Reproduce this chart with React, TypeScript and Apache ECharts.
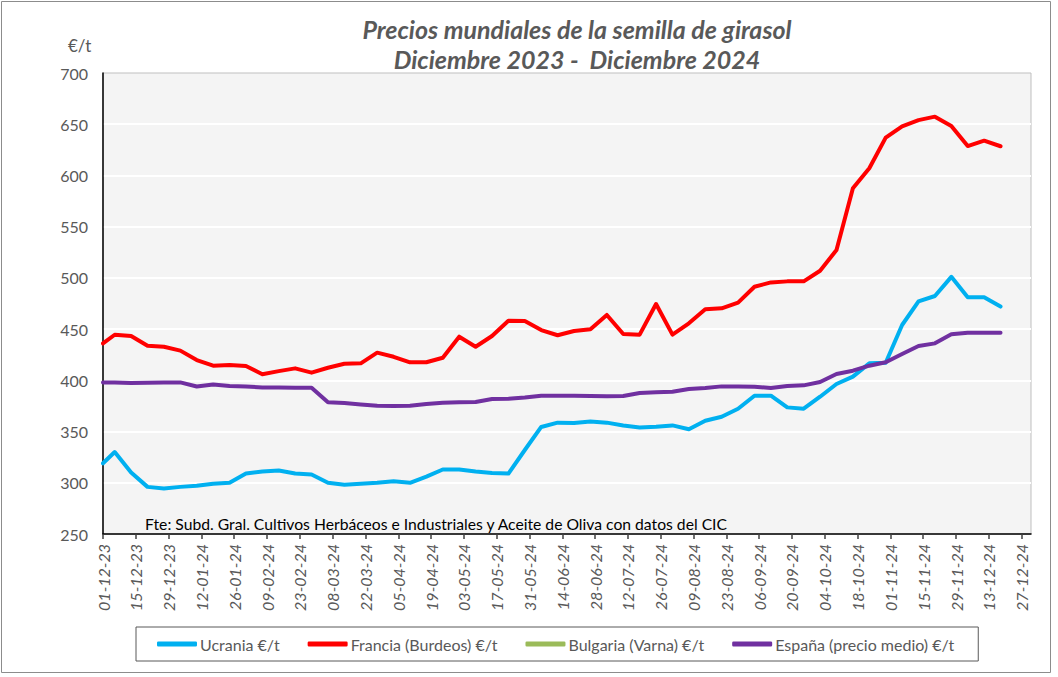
import React, { useEffect, useRef } from "react";
import * as echarts from "echarts";

// ---- Data (weekly prices, €/t) ----
const dates = [
  "01-12-23", "06-12-23", "13-12-23", "20-12-23", "27-12-23",
  "03-01-24", "10-01-24", "17-01-24", "24-01-24", "31-01-24",
  "07-02-24", "14-02-24", "21-02-24", "28-02-24",
  "06-03-24", "13-03-24", "20-03-24", "27-03-24",
  "03-04-24", "10-04-24", "17-04-24", "24-04-24",
  "01-05-24", "08-05-24", "15-05-24", "22-05-24", "29-05-24",
  "05-06-24", "12-06-24", "19-06-24", "26-06-24",
  "03-07-24", "10-07-24", "17-07-24", "24-07-24", "31-07-24",
  "07-08-24", "14-08-24", "21-08-24", "28-08-24",
  "04-09-24", "11-09-24", "18-09-24", "25-09-24",
  "02-10-24", "09-10-24", "16-10-24", "23-10-24", "30-10-24",
  "06-11-24", "13-11-24", "20-11-24", "27-11-24",
  "04-12-24", "11-12-24", "18-12-24",
];

const ucrania = [
  319, 330, 310, 296, 294.5, 296, 297, 299, 300, 309, 311, 312, 309, 308,
  300, 298, 299, 300, 301.5, 300, 306, 313, 313, 311, 309.5, 309, 332, 354.5,
  358.7, 358.4, 359.8, 358.7, 356, 354, 354.8, 356, 352.2, 360.6, 364.5, 372.3,
  385, 385, 373.6, 372.3, 384, 396.4, 403.6, 416.6, 417.2, 454, 477, 482.3,
  501, 481, 481, 472,
];

const francia = [
  436, 444.5, 443.3, 433.8, 432.8, 429, 419.8, 414.3, 415, 414, 406, 409,
  411.7, 407.5, 412.3, 416.2, 416.6, 427, 423, 417.6, 417.6, 422, 442.6, 432.8,
  443.3, 458.2, 457.9, 449.1, 444, 448.1, 449.8, 463.8, 445.2, 444.6, 474.5,
  444.6, 455.7, 469.3, 470.3, 475.8, 491.4, 495.6, 496.6, 496.6, 507, 527.2,
  587.4, 607, 636.9, 648, 654, 657.4, 648.3, 628.7, 633.9, 628.5,
];

const bulgaria: number[] = [];

const espana = [
  398, 397.8, 397.5, 397.7, 398, 398, 394, 396, 394.5, 394, 393, 393, 392.7,
  392.7, 378.5, 377.8, 376.5, 375.3, 375, 375.3, 377, 378, 378.7, 378.8, 381.8,
  382, 383.3, 385, 385, 385, 384.7, 384.4, 384.7, 387.6, 388.3, 388.9, 391.5,
  392.5, 394.1, 394.1, 393.8, 392.5, 394.5, 395.1, 398.4, 406.2, 409.4, 414.3,
  417.6, 425.7, 433.5, 436.1, 444.9, 446.5, 446.5, 446.5,
];

const tickLabels = [
  "01-12-23", "15-12-23", "29-12-23", "12-01-24", "26-01-24", "09-02-24",
  "23-02-24", "08-03-24", "22-03-24", "05-04-24", "19-04-24", "03-05-24",
  "17-05-24", "31-05-24", "14-06-24", "28-06-24", "12-07-24", "26-07-24",
  "09-08-24", "23-08-24", "06-09-24", "20-09-24", "04-10-24", "18-10-24",
  "01-11-24", "15-11-24", "29-11-24", "13-12-24", "27-12-24",
];

const axisStart = "01-12-23";
const axisEnd = "31-12-24";

const seriesNames = [
  "Ucrania €/t",
  "Francia (Burdeos) €/t",
  "Bulgaria (Varna) €/t",
  "España (precio medio) €/t",
];
const seriesColors = ["#00B0F0", "#FF0000", "#9BBB59", "#7030A0"];

// ---- helpers ----
const DAY = 86400000;
function toUTC(s: string) {
  const [d, m, y] = s.split("-").map(Number);
  return Date.UTC(2000 + y, m - 1, d);
}
const BASE = toUTC(axisStart);
function dayOf(s: string) {
  return Math.round((toUTC(s) - BASE) / DAY);
}
function pad(n: number) {
  return (n < 10 ? "0" : "") + n;
}
function labelOf(day: number) {
  const t = new Date(BASE + Math.round(day) * DAY);
  return (
    pad(t.getUTCDate()) +
    "-" +
    pad(t.getUTCMonth() + 1) +
    "-" +
    pad(t.getUTCFullYear() % 100)
  );
}

const FONT = "Lato, 'Open Sans', sans-serif";
const GREY = "#595959";

export default function App() {
  const ref = useRef<HTMLDivElement>(null);

  useEffect(() => {
    if (!ref.current) return;
    const chart = echarts.init(ref.current, undefined, { renderer: "svg" });
    const xs = dates.map(dayOf);
    const tickDays = tickLabels.map(dayOf);
    const mk = (vals: number[]) => vals.map((v, i) => [xs[i], v]);
    const allData = [ucrania, francia, bulgaria, espana];

    chart.setOption({
      animation: false,
      backgroundColor: "#ffffff",
      textStyle: { fontFamily: FONT },
      grid: {
        left: 103,
        right: 27,
        top: 73,
        bottom: 143,
        show: true,
        backgroundColor: "#F4F4F4",
        borderColor: "#BFBFBF",
        borderWidth: 1,
      },
      xAxis: {
        type: "value",
        min: 0,
        max: dayOf(axisEnd),
        interval: 14,
        axisLine: { show: true, lineStyle: { color: "#000000", width: 1.5 } },
        axisTick: {
          show: true,
          length: 5,
          lineStyle: { color: "#404040", width: 1.5 },
          customValues: tickDays,
        },
        axisLabel: {
          rotate: 90,
          margin: 10,
          color: GREY,
          fontStyle: "italic",
          fontSize: 16,
          fontFamily: FONT,
          customValues: tickDays,
          formatter: (v: number) =>
            tickDays.indexOf(Math.round(v)) >= 0 ? labelOf(v) : "",
        },
        splitLine: { show: false },
      },
      yAxis: {
        type: "value",
        min: 250,
        max: 700,
        interval: 50,
        axisLine: { show: true, lineStyle: { color: "#000000", width: 1.5 } },
        axisTick: { show: false },
        axisLabel: {
          color: GREY,
          fontSize: 16,
          margin: 15,
          fontFamily: FONT,
        },
        splitLine: {
          show: true,
          showMinLine: false,
          showMaxLine: false,
          lineStyle: { color: "#FFFFFF", width: 2 },
        },
      },
      legend: {
        data: seriesNames,
        left: 136,
        top: 627,
        padding: [9, 24, 9, 21],
        borderColor: "#595959",
        borderWidth: 1,
        icon: "roundRect",
        itemWidth: 40,
        itemHeight: 5,
        itemGap: 28,
        textStyle: { color: GREY, fontSize: 16, fontFamily: FONT, padding: [0, 0, 0, -2] },
      },
      series: seriesNames.map((name, i) => ({
        name,
        type: "line",
        data: mk(allData[i]),
        showSymbol: false,
        symbol: "none",
        color: seriesColors[i],
        lineStyle: { color: seriesColors[i], width: 4, cap: "round", join: "round" },
        clip: true,
      })),
      graphic: [
        {
          type: "rect",
          silent: true,
          shape: { x: 1.5, y: 1.5, width: 1049, height: 671 },
          style: { fill: "none", stroke: "#8C8C8C", lineWidth: 1 },
        },
        {
          type: "text",
          x: 577,
          y: 29,
          style: {
            text: "Precios mundiales de la semilla de girasol",
            fill: GREY,
            font: "italic bold 25px " + FONT,
            align: "center",
            verticalAlign: "middle",
            textAlign: "center",
            textVerticalAlign: "middle",
          },
        },
        {
          type: "text",
          x: 577,
          y: 59,
          style: {
            text: "Diciembre 2023 -  Diciembre 2024",
            fill: GREY,
            font: "italic bold 25px " + FONT,
            align: "center",
            verticalAlign: "middle",
            textAlign: "center",
            textVerticalAlign: "middle",
          },
        },
        {
          type: "text",
          x: 68,
          y: 45,
          style: {
            text: "€/t",
            fill: GREY,
            font: "17px " + FONT,
            align: "left",
            verticalAlign: "middle",
            textAlign: "left",
            textVerticalAlign: "middle",
          },
        },
        {
          type: "text",
          x: 145,
          y: 524,
          z: 10,
          style: {
            text: "Fte: Subd. Gral. Cultivos Herbáceos e Industriales y Aceite de Oliva con datos del CIC",
            fill: "#000000",
            font: "15.7px " + FONT,
            align: "left",
            verticalAlign: "middle",
            textAlign: "left",
            textVerticalAlign: "middle",
          },
        },
      ],
    });

    return () => chart.dispose();
  }, []);

  return (
    <div
      ref={ref}
      style={{ position: "fixed", left: 0, top: 0, width: 1058, height: 677 }}
    />
  );
}
